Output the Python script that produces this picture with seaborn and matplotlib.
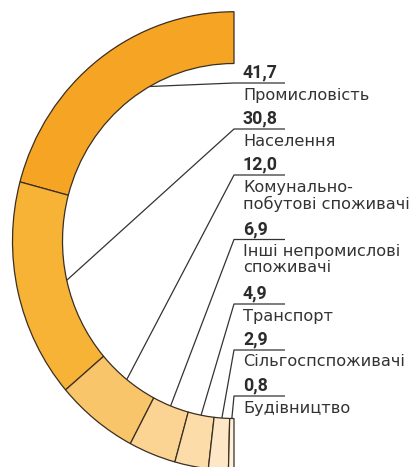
import matplotlib
matplotlib.use("Agg")
import matplotlib.pyplot as plt
import seaborn as sns
import numpy as np

values = [41.7, 30.8, 12.0, 6.9, 4.9, 2.9, 0.8]
value_labels = ["41,7", "30,8", "12,0", "6,9", "4,9", "2,9", "0,8"]
categories = ["Промисловість", "Населення", "Комунально-\nпобутові споживачі",
              "Інші непромислові\nспоживачі", "Транспорт", "Сільгоспспоживачі",
              "Будівництво"]
colors = ["#F5A523", "#F7B336", "#F9C56A", "#FBD393", "#FCDDAA", "#FDE7C6", "#FEF0DC"]

sns.set_theme(style="white")
plt.rcParams['font.family'] = ['Roboto', 'DejaVu Sans']

W, H = 414, 467
SY = 1.035  # vertical stretch of the reference

def py(y_px):
    return (H - y_px) / SY

fig = plt.figure(figsize=(W / 100, H / 100), dpi=100)
ax = fig.add_axes([0, 0, 1, 1])

cx, cy = 234, py(241)
r_out, r_in = 221.5, 171.5

total = sum(values)
ax.pie(values + [total], radius=r_out, center=(cx, cy), startangle=90,
       counterclock=True, colors=colors + ["none"],
       wedgeprops=dict(width=r_out - r_in, edgecolor="#3b2e22", linewidth=0.9))
ax.patches[-1].set_visible(False)

ax.set_aspect('auto')
ax.set_xlim(0, W)
ax.set_ylim(0, H / SY)
ax.axis('off')

text_color = "#2b2b2b"
y_u = 83
cum = 0.0
for i, (v, vl, cat) in enumerate(zip(values, value_labels, categories)):
    mid = cum + v / 2
    cum += v
    ang_top = mid / total * 180.0
    if i == 0:
        ang_top = 29.5
    a = np.deg2rad(90 + ang_top)
    sx, sy = cx + r_in * np.cos(a), cy + r_in * np.sin(a)
    ax.plot([sx, 234, 285], [sy, py(y_u), py(y_u)], color="#333333", lw=0.9,
            solid_capstyle='butt', solid_joinstyle='round')
    ax.text(243, py(y_u - 1.5), vl, fontsize=12.8, fontweight='bold',
            color=text_color, ha='left', va='bottom')
    ax.text(243, py(y_u + 4.5), cat, fontsize=11.6, color="#333333",
            family=['DejaVu Sans'], ha='left', va='top', linespacing=1.12)
    nlines = cat.count("\n") + 1
    y_u += 46 + 18.5 * (nlines - 1)

fig.savefig("out.png", dpi=100)
